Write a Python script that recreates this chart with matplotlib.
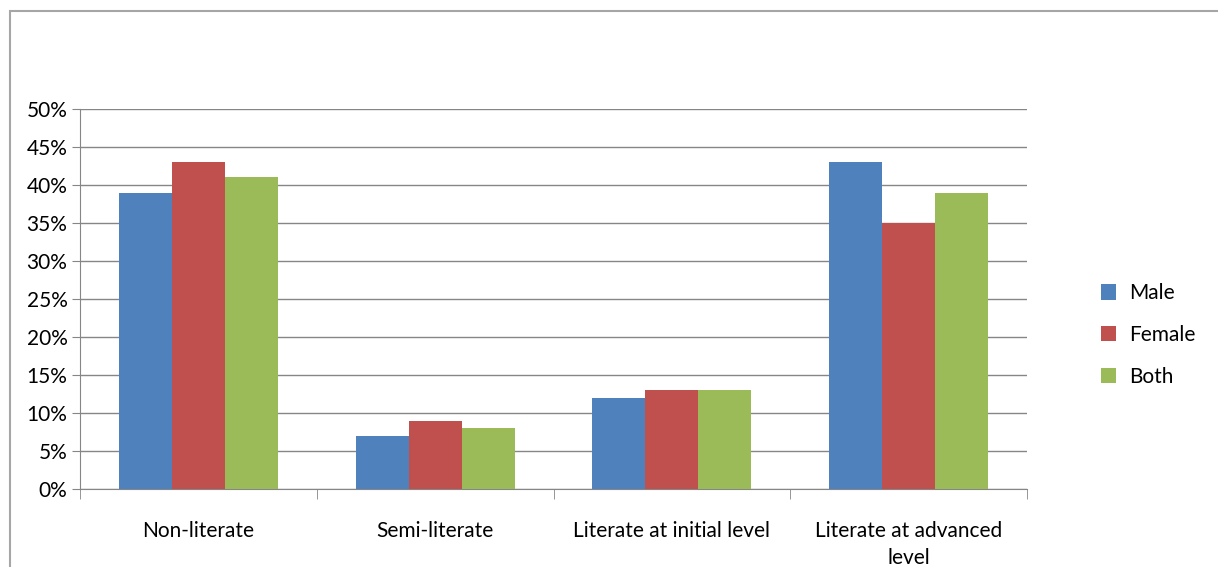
import matplotlib.pyplot as plt
import matplotlib.patches as mpatches
import numpy as np
from matplotlib.ticker import FuncFormatter

categories = ["Non-literate", "Semi-literate", "Literate at initial level", "Literate at advanced\nlevel"]
series = ["Male", "Female", "Both"]
male = [39, 7, 12, 43]
female = [43, 9, 13, 35]
both = [41, 8, 13, 39]
colors = ["#4f81bd", "#c0504d", "#9bbb59"]

plt.rcParams['font.family'] = ['Lato', 'DejaVu Sans']

fig = plt.figure(figsize=(12.18, 5.67), dpi=100)
ax = fig.add_axes([80/1218, 78/567, (1027-80)/1218, (489-109)/567])

# outer chart frame
fig.patches.append(mpatches.Rectangle((10/1218, -0.05), 1.2, (567-11)/567 + 0.05,
                                      transform=fig.transFigure, fill=False,
                                      edgecolor="#a6a6a6", linewidth=1.5))

x = np.arange(len(categories))
w = 0.224
for i, (vals, name) in enumerate(zip([male, female, both], series)):
    ax.bar(x + (i - 1) * w, vals, width=w, color=colors[i], label=name, zorder=3)

ax.set_xlim(-0.5, len(categories) - 0.5)
ax.set_ylim(0, 50)
ax.set_yticks(np.arange(0, 51, 5))
ax.yaxis.set_major_formatter(FuncFormatter(lambda v, p: f"{int(v)}%"))
ax.yaxis.grid(True, color="#868686", linewidth=1, zorder=0)

ax.set_xticks(x)
ax.set_xticklabels(categories, fontsize=15, linespacing=1.45)
ax.set_xticks(np.arange(-0.5, len(categories)), minor=True)
ax.tick_params(axis="x", which="major", length=0, pad=23)
ax.tick_params(axis="x", which="minor", length=7, color="#868686")
ax.tick_params(axis="y", length=6, color="#868686", labelsize=15, pad=3)

for s in ["top", "right"]:
    ax.spines[s].set_visible(False)
ax.spines["left"].set_color("#868686")
ax.spines["bottom"].set_color("#868686")

ax.legend(loc="center left", bbox_to_anchor=(1.058, 0.405), frameon=False,
          fontsize=15, handlelength=0.75, handleheight=0.75, labelspacing=1.05,
          handletextpad=0.6)

fig.savefig("out.png", dpi=100)
